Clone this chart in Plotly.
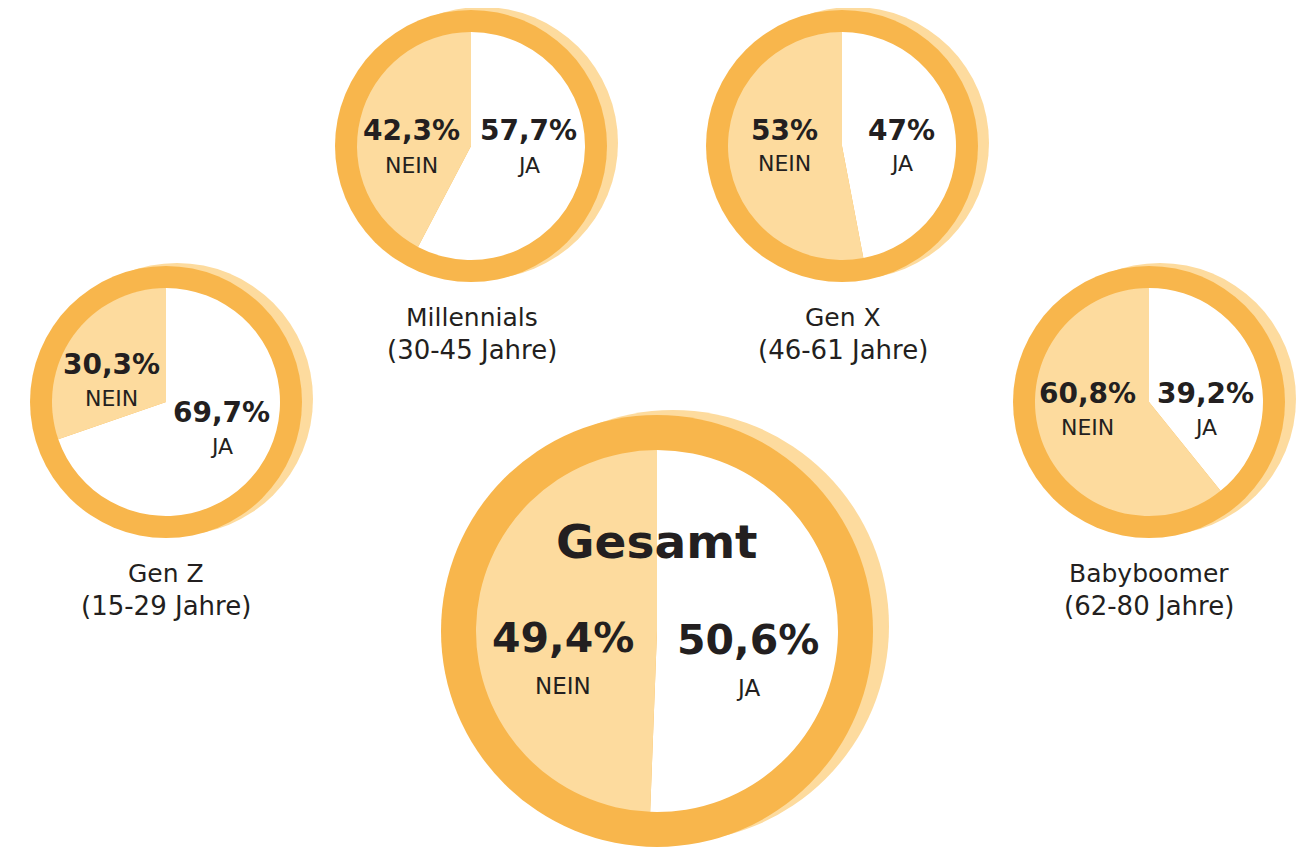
import plotly.graph_objects as go

# page body has an 8px margin; the figure fills the rest of the 1312x850 window
OFF = 8
W, H = 1312 - OFF, 850 - OFF

# ---- data ----
groups = ["Gen Z", "Millennials", "Gen X", "Babyboomer", "Gesamt"]
age_ranges = ["(15-29 Jahre)", "(30-45 Jahre)", "(46-61 Jahre)", "(62-80 Jahre)", ""]
categories = ["JA", "NEIN"]
ja_values = [69.7, 57.7, 47.0, 39.2, 50.6]
nein_values = [30.3, 42.3, 53.0, 60.8, 49.4]
ja_labels = ["69,7%", "57,7%", "47%", "39,2%", "50,6%"]
nein_labels = ["30,3%", "42,3%", "53%", "60,8%", "49,4%"]

# ---- layout (window pixels) ----
centers = [(166, 402), (471, 146), (842, 146), (1149, 402), (657, 631)]
inner_r = [114, 114, 114, 114, 181]
outer_r = [136, 136, 136, 136, 216]
shadow_off = [(11, -3), (11, -3), (11, -3), (11, -3), (16, -5)]
nein_pos = [(111, 364), (411, 131), (784, 130), (1087, 393), (563, 638)]
ja_pos = [(221, 413), (528, 131), (901, 130), (1205, 393), (748, 640)]
sub_gap = [34, 34, 33, 34, 48]
title_pos = [(166, 573), (472, 317), (843, 317), (1149, 573), None]

ORANGE = "#F8B64C"
PEACH = "#FDDB9E"
TEXT = "#231F20"
FONT = "DejaVu Sans"


def px(x):
    return (x - OFF) / W


def py(y):
    return 1 - (y - OFF) / H


fig = go.Figure()
shapes = []
annotations = []

for i, g in enumerate(groups):
    cx, cy = centers[i]
    r = inner_r[i]
    R = outer_r[i]
    dx, dy = shadow_off[i]
    shapes.append(dict(type="circle", xref="paper", yref="paper", layer="below",
                       x0=px(cx + dx - R), x1=px(cx + dx + R),
                       y0=py(cy + dy + R), y1=py(cy + dy - R),
                       fillcolor=PEACH, line=dict(width=0)))
    shapes.append(dict(type="circle", xref="paper", yref="paper", layer="below",
                       x0=px(cx - R), x1=px(cx + R),
                       y0=py(cy + R), y1=py(cy - R),
                       fillcolor=ORANGE, line=dict(width=0)))
    fig.add_trace(go.Pie(
        labels=categories,
        values=[ja_values[i], nein_values[i]],
        sort=False, direction="clockwise", rotation=0,
        marker=dict(colors=["#FFFFFF", PEACH], line=dict(width=0)),
        textinfo="none", hoverinfo="skip", showlegend=False,
        domain=dict(x=[px(cx - r), px(cx + r)], y=[py(cy + r), py(cy - r)]),
    ))

    big = i == 4
    pct_size = 41 if big else 28
    cat_size = 23 if big else 22
    for (x, y), txt, cat in [(nein_pos[i], nein_labels[i], "NEIN"),
                             (ja_pos[i], ja_labels[i], "JA")]:
        annotations.append(dict(x=px(x), y=py(y), xref="paper", yref="paper",
                                text="<b>" + txt + "</b>", showarrow=False,
                                xanchor="center", yanchor="middle",
                                font=dict(family=FONT, size=pct_size, color=TEXT)))
        annotations.append(dict(x=px(x), y=py(y + sub_gap[i]), xref="paper", yref="paper",
                                text=cat, showarrow=False,
                                xanchor="center", yanchor="middle",
                                font=dict(family=FONT, size=cat_size, color=TEXT)))
    if title_pos[i] is not None:
        tx, ty = title_pos[i]
        annotations.append(dict(x=px(tx), y=py(ty), xref="paper", yref="paper",
                                text=g, showarrow=False, xanchor="center", yanchor="middle",
                                font=dict(family=FONT, size=25, color=TEXT)))
        annotations.append(dict(x=px(tx), y=py(ty + 33), xref="paper", yref="paper",
                                text=age_ranges[i], showarrow=False, xanchor="center", yanchor="middle",
                                font=dict(family=FONT, size=26, color=TEXT)))
    else:
        annotations.append(dict(x=px(cx), y=py(541), xref="paper", yref="paper",
                                text="<b>" + g + "</b>", showarrow=False,
                                xanchor="center", yanchor="middle",
                                font=dict(family=FONT, size=47, color=TEXT)))

fig.update_layout(
    width=W, height=H,
    margin=dict(l=0, r=0, t=0, b=0),
    paper_bgcolor="white", plot_bgcolor="white",
    shapes=shapes, annotations=annotations,
    showlegend=False,
)

fig.write_html("out.html")
